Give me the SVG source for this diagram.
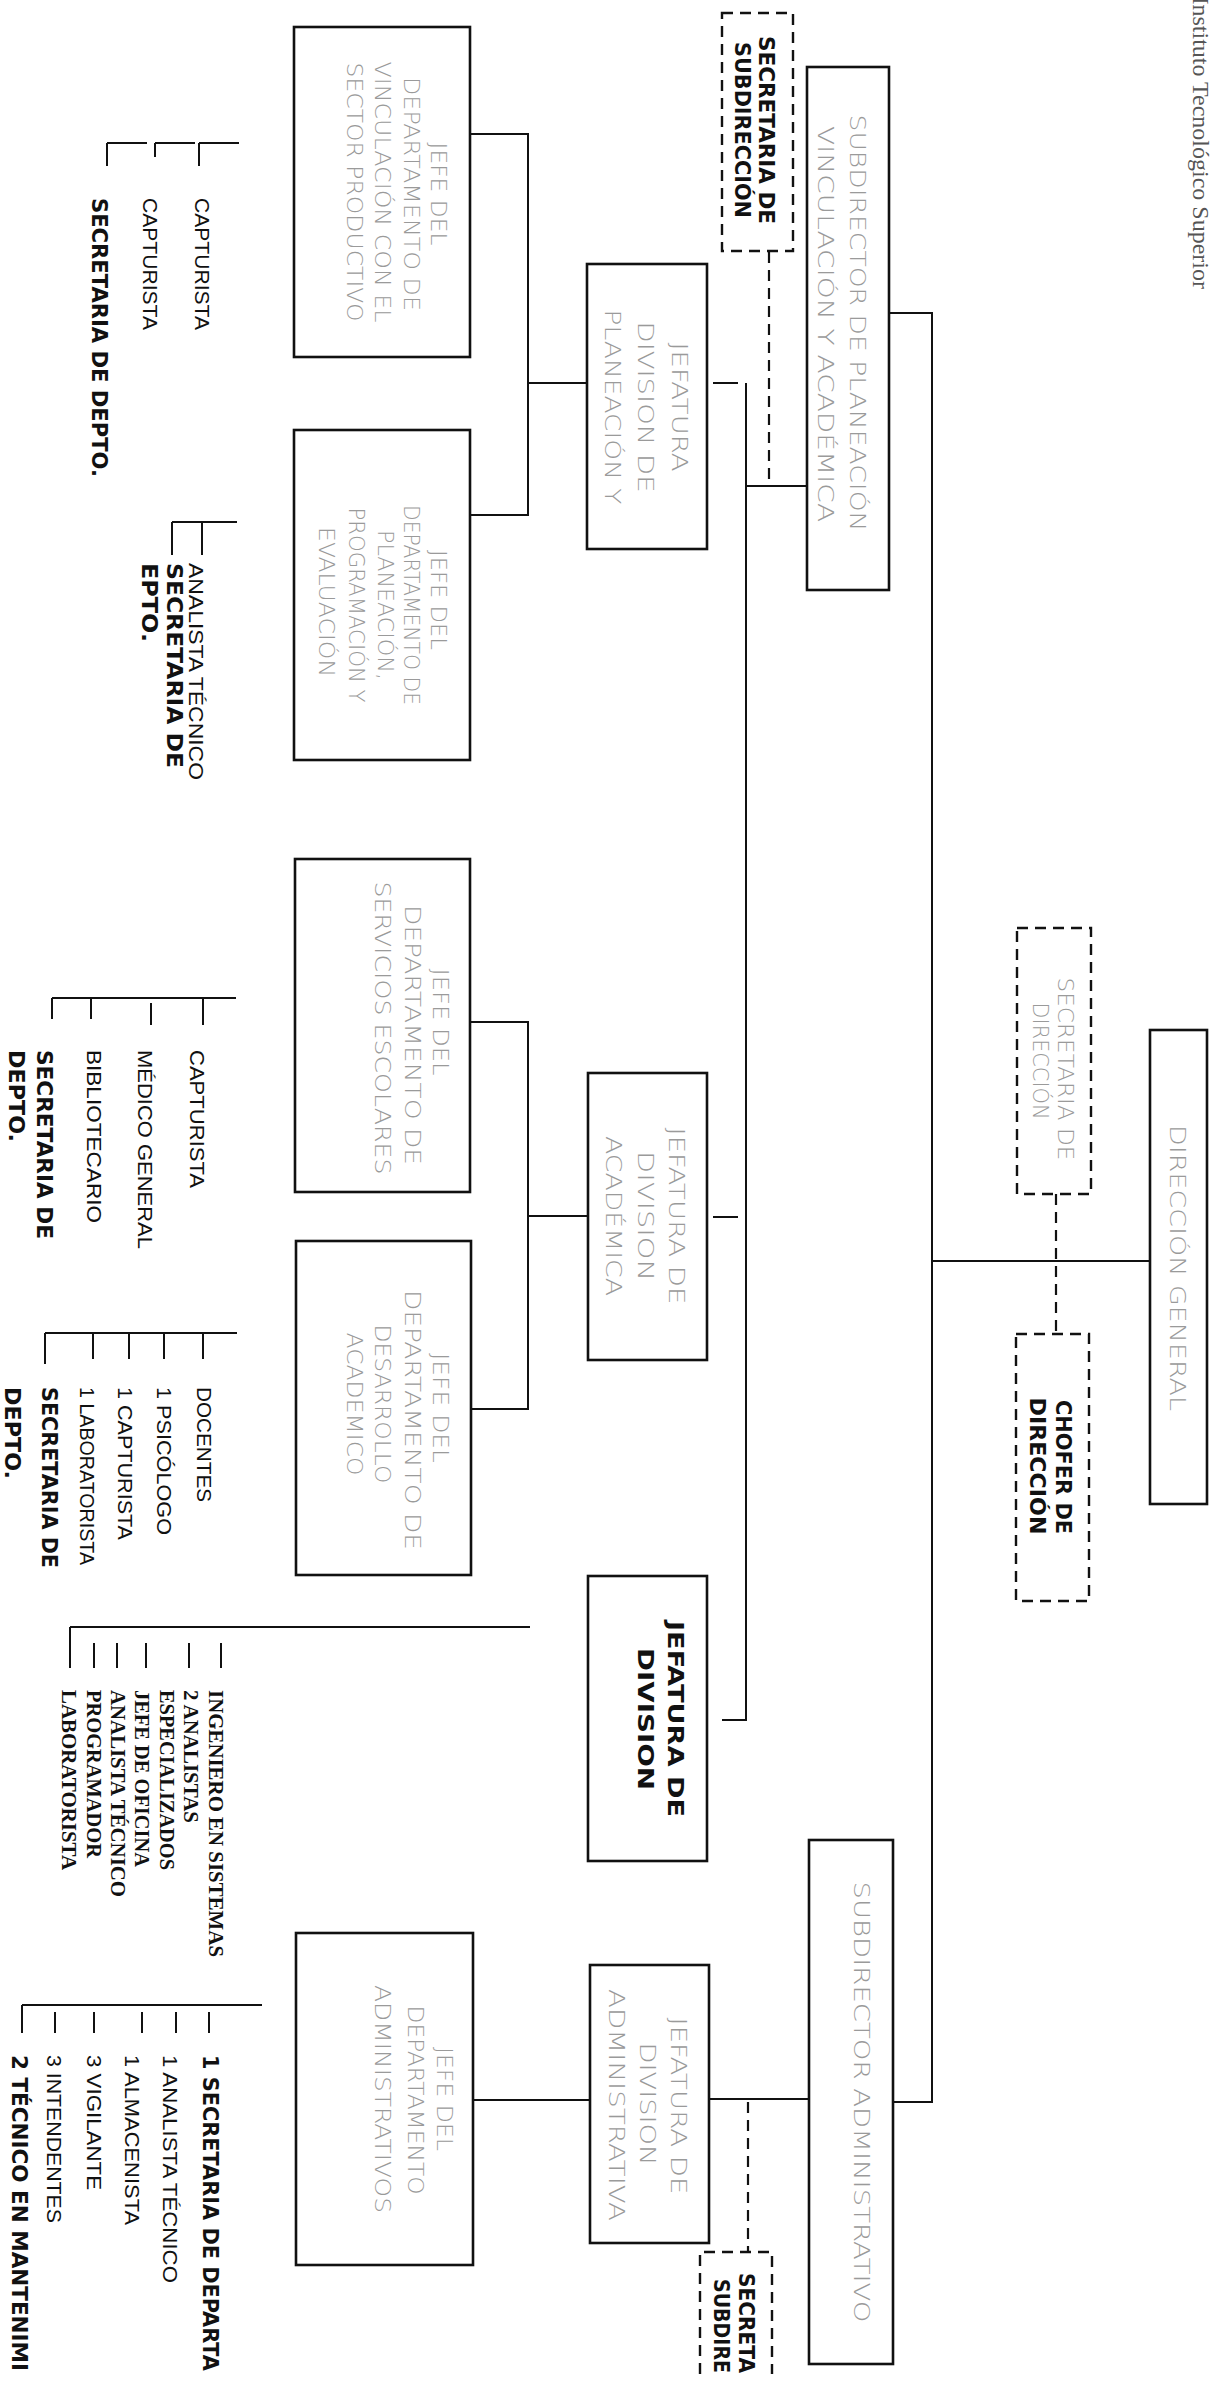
<svg xmlns="http://www.w3.org/2000/svg" width="1217" height="2386" viewBox="0 0 1217 2386">
<defs>
<style>
.box{fill:none;stroke:#111;stroke-width:2.6}
.dbox{fill:none;stroke:#111;stroke-width:2.4;stroke-dasharray:11 7}
.ln{fill:none;stroke:#111;stroke-width:2}
.dln{fill:none;stroke:#111;stroke-width:2.2;stroke-dasharray:11 7}
.g{font-family:"DejaVu Sans","Liberation Sans",sans-serif;font-weight:200;fill:#9a9a9a;font-size:21px}
.b{font-family:"DejaVu Sans","Liberation Sans",sans-serif;font-weight:bold;fill:#111;font-size:22px}
.r{font-family:"Liberation Sans",Arial,sans-serif;fill:#111;font-size:21px}
.t{font-family:"Liberation Serif","Times New Roman",serif;font-weight:bold;fill:#111;font-size:22px}
.m{text-anchor:middle}
</style>
<clipPath id="page"><rect x="0" y="0" width="1217" height="2374"/></clipPath>
</defs>
<rect x="0" y="0" width="1217" height="2386" fill="#fff"/>

<g id="title">
<text transform="rotate(90)" x="289" y="-1193" text-anchor="end" font-family="Liberation Serif, serif" font-size="24" fill="#555">Instituto Tecnológico Superior</text>
</g>

<g id="connectors">
<path class="ln" d="M889,313 H932 V2102 H893"/>
<path class="ln" d="M932,1261 H1150"/>
<path class="ln" d="M808,486 H746 M746,383 V1720 M713,383 H738 M713,1217 H738 M722,1720 H747"/>
<path class="ln" d="M470,134 H528 V515 H470 M528,383 H587"/>
<path class="ln" d="M470,1022 H528 V1409 H471 M528,1216 H588"/>
<path class="ln" d="M473,2100 H590 M709,2099 H810"/>
<path class="dln" d="M769,252 V480 M1056,1194 V1334 M748,2102 V2252"/>
</g>

<g id="direccion-general">
<rect class="box" x="1150" y="1030" width="57" height="474"/>
<g transform="rotate(90)"><text class="g m" font-size="23" x="1268" y="-1170" textLength="286" lengthAdjust="spacingAndGlyphs">DIRECCIÓN GENERAL</text></g>
</g>

<g id="secretaria-direccion">
<rect class="dbox" x="1017" y="928" width="74" height="266"/>
<g transform="rotate(90)">
<text class="g m" font-size="15" x="1069" y="-1058" textLength="183" lengthAdjust="spacingAndGlyphs">SECRETARIA DE</text>
<text class="g m" font-size="15" x="1061" y="-1033" textLength="117" lengthAdjust="spacingAndGlyphs">DIRECCIÓN</text>
</g>
</g>

<g id="chofer-direccion">
<rect class="dbox" x="1016" y="1334" width="73" height="267"/>
<g transform="rotate(90)">
<text class="b m" font-size="21" x="1467" y="-1056" textLength="134" lengthAdjust="spacingAndGlyphs">CHOFER DE</text>
<text class="b m" font-size="21" x="1466" y="-1030" textLength="137" lengthAdjust="spacingAndGlyphs">DIRECCIÓN</text>
</g>
</g>

<g id="subdirector-planeacion">
<rect class="box" x="807" y="67" width="82" height="523"/>
<g transform="rotate(90)">
<text class="g m" font-size="24" x="323" y="-850" textLength="417" lengthAdjust="spacingAndGlyphs">SUBDIRECTOR DE PLANEACIÓN</text>
<text class="g m" font-size="24" x="324" y="-818" textLength="396" lengthAdjust="spacingAndGlyphs">VINCULACIÓN Y ACADÉMICA</text>
</g>
</g>

<g id="secretaria-subdireccion-1">
<rect class="dbox" x="722" y="13" width="71" height="238"/>
<g transform="rotate(90)">
<text class="b m" font-size="23" x="130" y="-759" textLength="188" lengthAdjust="spacingAndGlyphs">SECRETARIA DE</text>
<text class="b m" font-size="23" x="130" y="-735" textLength="176" lengthAdjust="spacingAndGlyphs">SUBDIRECCIÓN</text>
</g>
</g>

<g id="jefatura-planeacion">
<rect class="box" x="587" y="264" width="120" height="285"/>
<g transform="rotate(90)">
<text class="g m" font-size="22" x="407" y="-672" textLength="129" lengthAdjust="spacingAndGlyphs">JEFATURA</text>
<text class="g m" font-size="22" x="407" y="-638" textLength="171" lengthAdjust="spacingAndGlyphs">DIVISION DE</text>
<text class="g m" font-size="22" x="407" y="-605" textLength="195" lengthAdjust="spacingAndGlyphs">PLANEACIÓN Y</text>
</g>
</g>

<g id="depto-vinculacion">
<rect class="box" x="294" y="27" width="176" height="330"/>
<g transform="rotate(90)">
<text class="g m" font-size="20" x="194" y="-431" textLength="103" lengthAdjust="spacingAndGlyphs">JEFE DEL</text>
<text class="g m" font-size="20" x="194" y="-404" textLength="234" lengthAdjust="spacingAndGlyphs">DEPARTAMENTO DE</text>
<text class="g m" font-size="20" x="192" y="-375" textLength="261" lengthAdjust="spacingAndGlyphs">VINCULACIÓN CON EL</text>
<text class="g m" font-size="20" x="192" y="-347" textLength="259" lengthAdjust="spacingAndGlyphs">SECTOR PRODUCTIVO</text>
</g>
</g>

<g id="depto-planeacion">
<rect class="box" x="294" y="430" width="176" height="330"/>
<g transform="rotate(90)">
<text class="g m" font-size="20" x="600" y="-431" textLength="100" lengthAdjust="spacingAndGlyphs">JEFE DEL</text>
<text class="g m" font-size="20" x="605" y="-404" textLength="200" lengthAdjust="spacingAndGlyphs">DEPARTAMENTO DE</text>
<text class="g m" font-size="20" x="605" y="-378" textLength="150" lengthAdjust="spacingAndGlyphs">PLANEACIÓN,</text>
<text class="g m" font-size="20" x="605" y="-349" textLength="195" lengthAdjust="spacingAndGlyphs">PROGRAMACIÓN Y</text>
<text class="g m" font-size="20" x="602" y="-319" textLength="150" lengthAdjust="spacingAndGlyphs">EVALUACIÓN</text>
</g>
</g>

<g id="depto-servicios">
<rect class="box" x="295" y="859" width="175" height="333"/>
<g transform="rotate(90)">
<text class="g m" font-size="20" x="1022" y="-433" textLength="107" lengthAdjust="spacingAndGlyphs">JEFE DEL</text>
<text class="g m" font-size="20" x="1035" y="-405" textLength="260" lengthAdjust="spacingAndGlyphs">DEPARTAMENTO DE</text>
<text class="g m" font-size="20" x="1028" y="-375" textLength="293" lengthAdjust="spacingAndGlyphs">SERVICIOS ESCOLARES</text>
</g>
</g>

<g id="jefatura-academica">
<rect class="box" x="588" y="1073" width="119" height="287"/>
<g transform="rotate(90)">
<text class="g m" font-size="22" x="1216" y="-669" textLength="177" lengthAdjust="spacingAndGlyphs">JEFATURA DE</text>
<text class="g m" font-size="22" x="1216" y="-638" textLength="130" lengthAdjust="spacingAndGlyphs">DIVISION</text>
<text class="g m" font-size="22" x="1216" y="-606" textLength="160" lengthAdjust="spacingAndGlyphs">ACADÉMICA</text>
</g>
</g>

<g id="depto-desarrollo">
<rect class="box" x="296" y="1241" width="175" height="334"/>
<g transform="rotate(90)">
<text class="g m" font-size="20" x="1408" y="-433" textLength="110" lengthAdjust="spacingAndGlyphs">JEFE DEL</text>
<text class="g m" font-size="20" x="1420" y="-405" textLength="260" lengthAdjust="spacingAndGlyphs">DEPARTAMENTO DE</text>
<text class="g m" font-size="20" x="1404" y="-375" textLength="159" lengthAdjust="spacingAndGlyphs">DESARROLLO</text>
<text class="g m" font-size="20" x="1404" y="-347" textLength="143" lengthAdjust="spacingAndGlyphs">ACADEMICO</text>
</g>
</g>

<g id="jefatura-division">
<rect class="box" x="588" y="1576" width="119" height="285"/>
<g transform="rotate(90)">
<text class="b m" font-size="27" x="1719" y="-668" textLength="196" lengthAdjust="spacingAndGlyphs">JEFATURA DE</text>
<text class="b m" font-size="27" x="1719" y="-638" textLength="142" lengthAdjust="spacingAndGlyphs">DIVISION</text>
</g>
</g>

<g id="subdirector-administrativo">
<rect class="box" x="809" y="1840" width="84" height="524"/>
<g transform="rotate(90)">
<text class="g m" font-size="24" x="2102" y="-854" textLength="441" lengthAdjust="spacingAndGlyphs">SUBDIRECTOR ADMINISTRATIVO</text>
</g>
</g>

<g id="jefatura-administrativa">
<rect class="box" x="590" y="1965" width="119" height="278"/>
<g transform="rotate(90)">
<text class="g m" font-size="22" x="2106" y="-671" textLength="177" lengthAdjust="spacingAndGlyphs">JEFATURA DE</text>
<text class="g m" font-size="22" x="2104" y="-640" textLength="123" lengthAdjust="spacingAndGlyphs">DIVISION</text>
<text class="g m" font-size="22" x="2105" y="-609" textLength="232" lengthAdjust="spacingAndGlyphs">ADMINISTRATIVA</text>
</g>
</g>

<g id="depto-administrativo">
<rect class="box" x="296" y="1933" width="177" height="332"/>
<g transform="rotate(90)">
<text class="g m" font-size="20" x="2099" y="-437" textLength="104" lengthAdjust="spacingAndGlyphs">JEFE DEL</text>
<text class="g m" font-size="20" x="2100" y="-408" textLength="189" lengthAdjust="spacingAndGlyphs">DEPARTAMENTO</text>
<text class="g m" font-size="20" x="2099" y="-375" textLength="228" lengthAdjust="spacingAndGlyphs">ADMINISTRATIVOS</text>
</g>
</g>

<g id="secretaria-subdireccion-2">
<path class="dbox" d="M700,2374 V2252 H772 V2374" clip-path="url(#page)"/>
<g transform="rotate(90)">
<text class="b" font-size="23" x="2273" y="-739" textLength="100" lengthAdjust="spacingAndGlyphs">SECRETA</text>
<text class="b" font-size="23" x="2279" y="-714" textLength="94" lengthAdjust="spacingAndGlyphs">SUBDIRE</text>
</g>
</g>

<g id="lista-vinculacion">
<path class="ln" d="M107,143 H147 M155,143 H195 M199,143 H239 M107,143 V166 M155,143 V157 M199,143 V166"/>
<g transform="rotate(90)">
<text class="r" x="198" y="-195" textLength="132" lengthAdjust="spacingAndGlyphs">CAPTURISTA</text>
<text class="r" x="198" y="-143" textLength="132" lengthAdjust="spacingAndGlyphs">CAPTURISTA</text>
<text class="b" x="198" y="-92" textLength="279" lengthAdjust="spacingAndGlyphs">SECRETARIA DE DEPTO.</text>
</g>
</g>

<g id="lista-planeacion">
<path class="ln" d="M172,522 H237 M172,522 V555 M202,522 V555"/>
<g transform="rotate(90)">
<text class="r" x="563" y="-189" textLength="217" lengthAdjust="spacingAndGlyphs">ANALISTA TÉCNICO</text>
<text class="b" x="563" y="-167" textLength="205" lengthAdjust="spacingAndGlyphs">SECRETARIA DE</text>
<text class="b" x="563" y="-142" textLength="79" lengthAdjust="spacingAndGlyphs">EPTO.</text>
</g>
</g>

<g id="lista-servicios">
<path class="ln" d="M52,998 H236 M52,998 V1019 M91,998 V1019 M151,1003 V1025 M203,998 V1025"/>
<g transform="rotate(90)">
<text class="r" x="1050" y="-190" textLength="138" lengthAdjust="spacingAndGlyphs">CAPTURISTA</text>
<text class="r" x="1050" y="-138" textLength="199" lengthAdjust="spacingAndGlyphs">MÉDICO GENERAL</text>
<text class="r" x="1050" y="-87" textLength="173" lengthAdjust="spacingAndGlyphs">BIBLIOTECARIO</text>
<text class="b" x="1050" y="-37" textLength="189" lengthAdjust="spacingAndGlyphs">SECRETARIA DE</text>
<text class="b" x="1050" y="-9" textLength="92" lengthAdjust="spacingAndGlyphs">DEPTO.</text>
</g>
</g>

<g id="lista-desarrollo">
<path class="ln" d="M45,1333 H237 M45,1333 V1364 M93,1333 V1359 M129,1333 V1359 M164,1333 V1359 M203,1333 V1359"/>
<g transform="rotate(90)">
<text class="r" x="1387" y="-197" textLength="115" lengthAdjust="spacingAndGlyphs">DOCENTES</text>
<text class="r" x="1387" y="-157" textLength="148" lengthAdjust="spacingAndGlyphs">1 PSICÓLOGO</text>
<text class="r" x="1387" y="-118" textLength="153" lengthAdjust="spacingAndGlyphs">1 CAPTURISTA</text>
<text class="r" x="1387" y="-80" textLength="178" lengthAdjust="spacingAndGlyphs">1 LABORATORISTA</text>
<text class="b" x="1387" y="-42" textLength="181" lengthAdjust="spacingAndGlyphs">SECRETARIA DE</text>
<text class="b" x="1387" y="-5" textLength="92" lengthAdjust="spacingAndGlyphs">DEPTO.</text>
</g>
</g>

<g id="lista-division">
<path class="ln" d="M70,1627 H530 M70,1627 V1668 M94,1643 V1668 M117,1643 V1668 M146,1643 V1668 M189,1643 V1668 M221,1643 V1668"/>
<g transform="rotate(90)">
<text class="t" x="1690" y="-209" textLength="267" lengthAdjust="spacingAndGlyphs">INGENIERO EN SISTEMAS</text>
<text class="t" x="1690" y="-184" textLength="133" lengthAdjust="spacingAndGlyphs">2 ANALISTAS</text>
<text class="t" x="1690" y="-160" textLength="180" lengthAdjust="spacingAndGlyphs">ESPECIALIZADOS</text>
<text class="t" x="1690" y="-135" textLength="177" lengthAdjust="spacingAndGlyphs">JEFE DE OFICINA</text>
<text class="t" x="1690" y="-111" textLength="207" lengthAdjust="spacingAndGlyphs">ANALISTA TÉCNICO</text>
<text class="t" x="1690" y="-87" textLength="168" lengthAdjust="spacingAndGlyphs">PROGRAMADOR</text>
<text class="t" x="1690" y="-62" textLength="180" lengthAdjust="spacingAndGlyphs">LABORATORISTA</text>
</g>
</g>

<g id="lista-administrativa">
<path class="ln" d="M22,2005 H262 M22,2005 V2033 M55,2012 V2033 M94,2012 V2033 M142,2012 V2033 M176,2012 V2033 M209,2012 V2033"/>
<g transform="rotate(90)">
<text class="b" font-size="23" x="2055" y="-203" textLength="316" lengthAdjust="spacingAndGlyphs">1 SECRETARIA DE DEPARTA</text>
<text class="r" font-size="22" x="2055" y="-163" textLength="228" lengthAdjust="spacingAndGlyphs">1 ANALISTA TÉCNICO</text>
<text class="r" font-size="22" x="2055" y="-125" textLength="170" lengthAdjust="spacingAndGlyphs">1 ALMACENISTA</text>
<text class="r" font-size="22" x="2055" y="-87" textLength="135" lengthAdjust="spacingAndGlyphs">3 VIGILANTE</text>
<text class="r" font-size="22" x="2055" y="-47" textLength="168" lengthAdjust="spacingAndGlyphs">3 INTENDENTES</text>
<text class="b" font-size="23" x="2055" y="-12" textLength="316" lengthAdjust="spacingAndGlyphs">2 TÉCNICO EN MANTENIMI</text>
</g>
</g>
</svg>
